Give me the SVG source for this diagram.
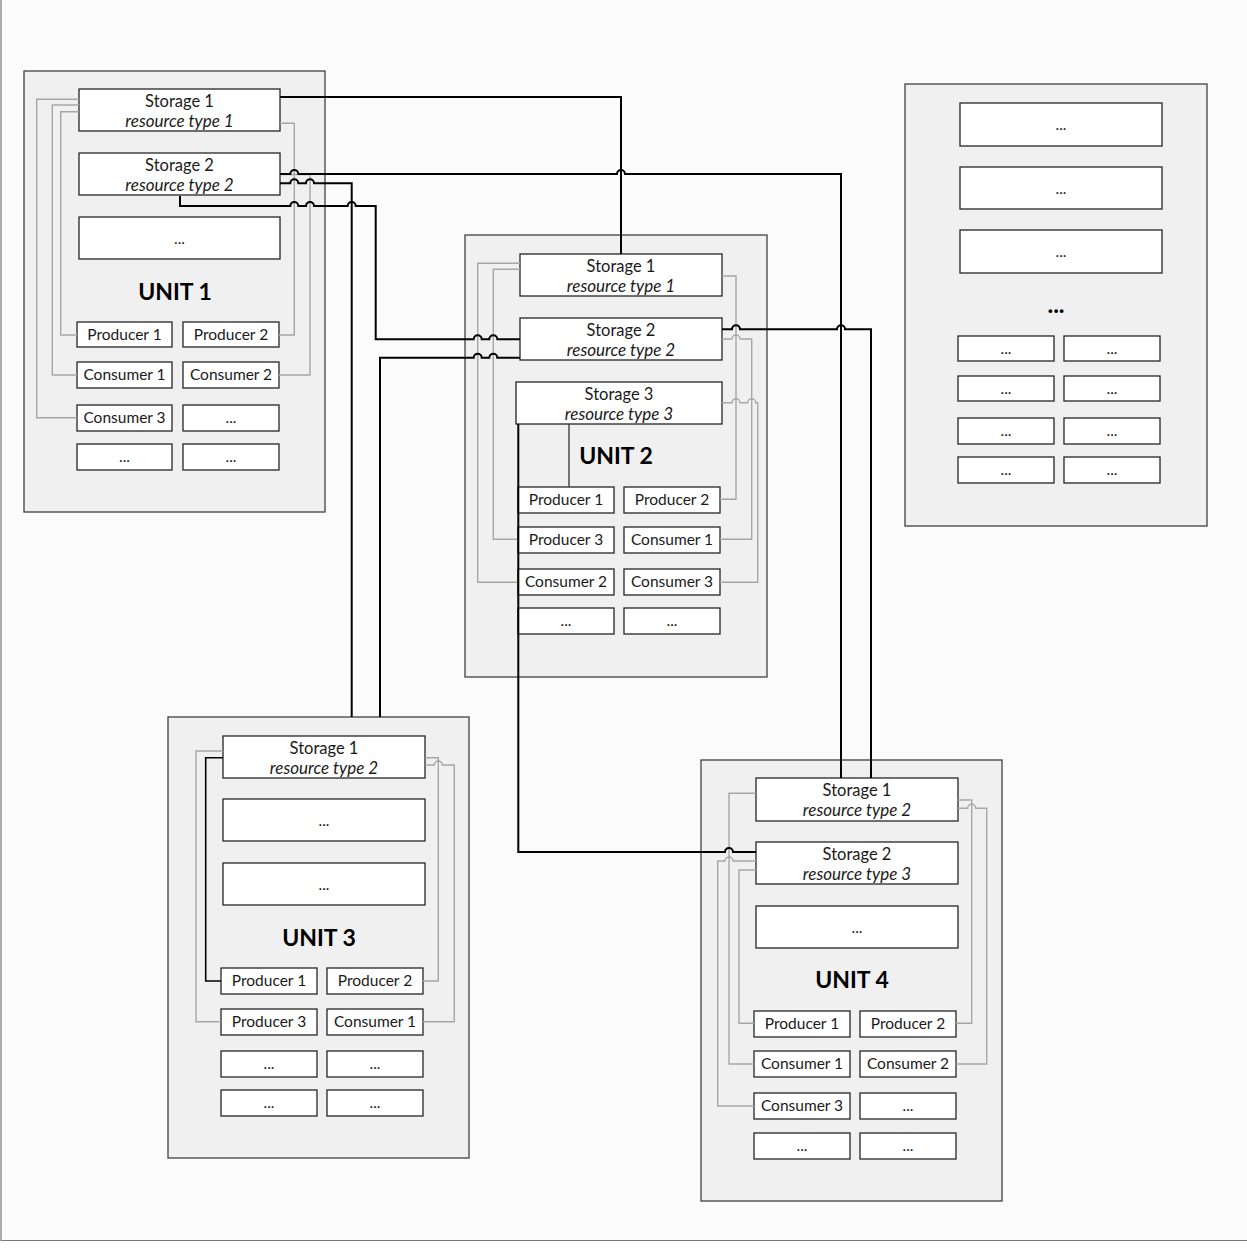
<svg xmlns="http://www.w3.org/2000/svg" width="1247" height="1251" viewBox="0 0 1247 1251">
<style>
.unit{fill:#f0f0f0;stroke:#404040;stroke-width:1.3}
.box{fill:#fff;stroke:#262626;stroke-width:1.3}
text{font-family:Lato,"Liberation Sans",sans-serif;font-size:15.5px;fill:#1a1a1a;text-anchor:middle}
.s{font-size:16.5px}
.i{font-style:italic;font-size:17px}
.u{font-weight:bold;font-size:23px;fill:#000}
.bd{font-weight:bold;font-size:24px;fill:#000}
.g{fill:none;stroke:#a6a6a6;stroke-width:1.4}
.k{fill:none;stroke:#000;stroke-width:2}
.k1{fill:none;stroke:#333;stroke-width:1.3}
</style>
<rect x="0" y="0" width="1247" height="1251" fill="#ffffff"/>
<rect x="0" y="0" width="1247" height="1240" fill="#fbfbfb"/>
<path d="M1,0 V1240.5 H1247" fill="none" stroke="#777" stroke-width="1.2"/>

<g id="unit1">
<rect class="unit" x="24" y="71" width="301" height="441"/>
<g id="u1-storage1"><rect class="box" x="79" y="89" width="201" height="42"/><text class="s" x="179.5" y="106.5">Storage 1</text><text class="i" x="179.5" y="126.5">resource type 1</text></g>
<g id="u1-storage2"><rect class="box" x="79" y="153" width="201" height="42"/><text class="s" x="179.5" y="170.5">Storage 2</text><text class="i" x="179.5" y="190.5">resource type 2</text></g>
<g id="u1-more"><rect class="box" x="79" y="217" width="201" height="42"/><text x="179.5" y="244">...</text></g>
<text class="u" x="175" y="300">UNIT 1</text>
<g id="u1-producer1"><rect class="box" x="77" y="322" width="95" height="25"/><text x="124.5" y="340">Producer 1</text></g>
<g id="u1-producer2"><rect class="box" x="183" y="322" width="96" height="25"/><text x="231" y="340">Producer 2</text></g>
<g id="u1-consumer1"><rect class="box" x="77" y="362" width="95" height="26"/><text x="124.5" y="380">Consumer 1</text></g>
<g id="u1-consumer2"><rect class="box" x="183" y="362" width="96" height="26"/><text x="231" y="380">Consumer 2</text></g>
<g id="u1-consumer3"><rect class="box" x="77" y="405" width="95" height="26"/><text x="124.5" y="423">Consumer 3</text></g>
<g id="u1-more2"><rect class="box" x="183" y="405" width="96" height="26"/><text x="231" y="423">...</text></g>
<g id="u1-more3"><rect class="box" x="77" y="444" width="95" height="26"/><text x="124.5" y="462">...</text></g>
<g id="u1-more4"><rect class="box" x="183" y="444" width="96" height="26"/><text x="231" y="462">...</text></g>
</g>

<g id="unit2">
<rect class="unit" x="465" y="235" width="302" height="442"/>
<g id="u2-storage1"><rect class="box" x="520" y="254" width="202" height="42"/><text class="s" x="621" y="271.5">Storage 1</text><text class="i" x="621" y="291.5">resource type 1</text></g>
<g id="u2-storage2"><rect class="box" x="520" y="318" width="202" height="42"/><text class="s" x="621" y="335.5">Storage 2</text><text class="i" x="621" y="355.5">resource type 2</text></g>
<g id="u2-storage3"><rect class="box" x="516" y="382" width="206" height="42"/><text class="s" x="619" y="399.5">Storage 3</text><text class="i" x="619" y="419.5">resource type 3</text></g>
<text class="u" x="616" y="464">UNIT 2</text>
<g id="u2-producer1"><rect class="box" x="518" y="487" width="96" height="26"/><text x="566" y="505">Producer 1</text></g>
<g id="u2-producer2"><rect class="box" x="624" y="487" width="96" height="26"/><text x="672" y="505">Producer 2</text></g>
<g id="u2-producer3"><rect class="box" x="518" y="527" width="96" height="26"/><text x="566" y="545">Producer 3</text></g>
<g id="u2-consumer1"><rect class="box" x="624" y="527" width="96" height="26"/><text x="672" y="545">Consumer 1</text></g>
<g id="u2-consumer2"><rect class="box" x="518" y="569" width="96" height="26"/><text x="566" y="587">Consumer 2</text></g>
<g id="u2-consumer3"><rect class="box" x="624" y="569" width="96" height="26"/><text x="672" y="587">Consumer 3</text></g>
<g id="u2-more1"><rect class="box" x="518" y="608" width="96" height="26"/><text x="566" y="626">...</text></g>
<g id="u2-more2"><rect class="box" x="624" y="608" width="96" height="26"/><text x="672" y="626">...</text></g>
</g>

<g id="unit3">
<rect class="unit" x="168" y="717" width="301" height="441"/>
<g id="u3-storage1"><rect class="box" x="223" y="736" width="202" height="42"/><text class="s" x="324" y="753.5">Storage 1</text><text class="i" x="324" y="773.5">resource type 2</text></g>
<g id="u3-more1"><rect class="box" x="223" y="799" width="202" height="42"/><text x="324" y="826">...</text></g>
<g id="u3-more2"><rect class="box" x="223" y="863" width="202" height="42"/><text x="324" y="890">...</text></g>
<text class="u" x="319" y="946">UNIT 3</text>
<g id="u3-producer1"><rect class="box" x="221" y="968" width="96" height="26"/><text x="269" y="986">Producer 1</text></g>
<g id="u3-producer2"><rect class="box" x="327" y="968" width="96" height="26"/><text x="375" y="986">Producer 2</text></g>
<g id="u3-producer3"><rect class="box" x="221" y="1009" width="96" height="26"/><text x="269" y="1027">Producer 3</text></g>
<g id="u3-consumer1"><rect class="box" x="327" y="1009" width="96" height="26"/><text x="375" y="1027">Consumer 1</text></g>
<g id="u3-more3"><rect class="box" x="221" y="1051" width="96" height="26"/><text x="269" y="1069">...</text></g>
<g id="u3-more4"><rect class="box" x="327" y="1051" width="96" height="26"/><text x="375" y="1069">...</text></g>
<g id="u3-more5"><rect class="box" x="221" y="1090" width="96" height="26"/><text x="269" y="1108">...</text></g>
<g id="u3-more6"><rect class="box" x="327" y="1090" width="96" height="26"/><text x="375" y="1108">...</text></g>
</g>

<g id="unit4">
<rect class="unit" x="701" y="760" width="301" height="441"/>
<g id="u4-storage1"><rect class="box" x="756" y="778" width="202" height="43"/><text class="s" x="857" y="795.5">Storage 1</text><text class="i" x="857" y="815.5">resource type 2</text></g>
<g id="u4-storage2"><rect class="box" x="756" y="842" width="202" height="42"/><text class="s" x="857" y="859.5">Storage 2</text><text class="i" x="857" y="879.5">resource type 3</text></g>
<g id="u4-more1"><rect class="box" x="756" y="906" width="202" height="42"/><text x="857" y="933">...</text></g>
<text class="u" x="852" y="988">UNIT 4</text>
<g id="u4-producer1"><rect class="box" x="754" y="1011" width="96" height="26"/><text x="802" y="1029">Producer 1</text></g>
<g id="u4-producer2"><rect class="box" x="860" y="1011" width="96" height="26"/><text x="908" y="1029">Producer 2</text></g>
<g id="u4-consumer1"><rect class="box" x="754" y="1051" width="96" height="26"/><text x="802" y="1069">Consumer 1</text></g>
<g id="u4-consumer2"><rect class="box" x="860" y="1051" width="96" height="26"/><text x="908" y="1069">Consumer 2</text></g>
<g id="u4-consumer3"><rect class="box" x="754" y="1093" width="96" height="26"/><text x="802" y="1111">Consumer 3</text></g>
<g id="u4-more2"><rect class="box" x="860" y="1093" width="96" height="26"/><text x="908" y="1111">...</text></g>
<g id="u4-more3"><rect class="box" x="754" y="1133" width="96" height="26"/><text x="802" y="1151">...</text></g>
<g id="u4-more4"><rect class="box" x="860" y="1133" width="96" height="26"/><text x="908" y="1151">...</text></g>
</g>

<g id="unit5">
<rect class="unit" x="905" y="84" width="302" height="442"/>
<g id="u5-big1"><rect class="box" x="960" y="103" width="202" height="43"/><text x="1061" y="130">...</text></g>
<g id="u5-big2"><rect class="box" x="960" y="167" width="202" height="42"/><text x="1061" y="194">...</text></g>
<g id="u5-big3"><rect class="box" x="960" y="230" width="202" height="43"/><text x="1061" y="257">...</text></g>
<text class="bd" x="1056" y="313">...</text>
<g id="u5-s1"><rect class="box" x="958" y="336" width="96" height="25"/><text x="1006" y="354">...</text></g>
<g id="u5-s2"><rect class="box" x="1064" y="336" width="96" height="25"/><text x="1112" y="354">...</text></g>
<g id="u5-s3"><rect class="box" x="958" y="376" width="96" height="25"/><text x="1006" y="394">...</text></g>
<g id="u5-s4"><rect class="box" x="1064" y="376" width="96" height="25"/><text x="1112" y="394">...</text></g>
<g id="u5-s5"><rect class="box" x="958" y="418" width="96" height="26"/><text x="1006" y="436">...</text></g>
<g id="u5-s6"><rect class="box" x="1064" y="418" width="96" height="26"/><text x="1112" y="436">...</text></g>
<g id="u5-s7"><rect class="box" x="958" y="457" width="96" height="26"/><text x="1006" y="475">...</text></g>
<g id="u5-s8"><rect class="box" x="1064" y="457" width="96" height="26"/><text x="1112" y="475">...</text></g>
</g>

<g id="connectors">
<g id="internal-links">
<path class="g" d="M79,99.3 H36.7 V417.7 H77"/>
<path class="g" d="M79,105 H52.3 V375 H77"/>
<path class="g" d="M79,111.7 H60.7 V335 H77"/>
<path class="g" d="M280,123.3 H294.3 V335 H279"/>
<path class="g" d="M280,174.5 H310 V375 H279"/>
<path class="g" d="M520,263.3 H477.7 V582.3 H518"/>
<path class="g" d="M520,269.3 H493.3 V539.3 H518"/>
<path class="g" d="M722,276 H736 V499.3 H720"/>
<path class="g" d="M722,339 H732 A4,4 0 0 1 740,339 H751.7 V539.3 H720"/>
<path class="g" d="M722,402.7 H732 A4,4 0 0 1 740,402.7 H747.7 A4,4 0 0 1 755.7,402.7 H757.7 V582.3 H720"/>
<path class="g" d="M223,751 H196 V1021.7 H221"/>
<path class="g" d="M425,757.7 H438.3 V981 H423"/>
<path class="g" d="M425,765 H434.3 A4,4 0 0 1 442.3,765 H454.3 V1021.7 H423"/>
<path class="g" d="M756,793.3 H729 V1064 H754"/>
<path class="g" d="M756,861 H733 A4,4 0 0 0 725,861 H717.7 V1106 H754"/>
<path class="g" d="M756,870 H739 V1023.3 H754"/>
<path class="g" d="M958,800 H971.7 V1023.3 H956"/>
<path class="g" d="M958,808.3 H967.7 A4,4 0 0 1 975.7,808.3 H986.7 V1064 H956"/>
<path class="k1" d="M569,424 V487"/>
<path class="k" style="stroke-width:1.6" d="M223,757.7 H205.7 V981 H221"/>
</g>
<g id="unit-links">
<path class="k" d="M280,97 H621 V254"/>
<path class="k" d="M280,174 H290.3 A4,4 0 0 1 298.3,174 H617 A4,4 0 0 1 625,174 H841 V778"/>
<path class="k" d="M280,183.3 H290.3 A4,4 0 0 1 298.3,183.3 H306 A4,4 0 0 1 314,183.3 H351.7 V717"/>
<path class="k" d="M180,196 V206 H290.3 A4,4 0 0 1 298.3,206 H306 A4,4 0 0 1 314,206 H347.7 A4,4 0 0 1 355.7,206 H375.7 V339.3 H473.7 A4,4 0 0 1 481.7,339.3 H489.3 A4,4 0 0 1 497.3,339.3 H520"/>
<path class="k" d="M520,357.7 H497.3 A4,4 0 0 0 489.3,357.7 H481.7 A4,4 0 0 0 473.7,357.7 H380 V717"/>
<path class="k" d="M722,329.3 H732 A4,4 0 0 1 740,329.3 H837 A4,4 0 0 1 845,329.3 H871 V778"/>
<path class="k" d="M518.3,424 V852 H725 A4,4 0 0 1 733,852 H756"/>
</g>
</g>
</svg>
